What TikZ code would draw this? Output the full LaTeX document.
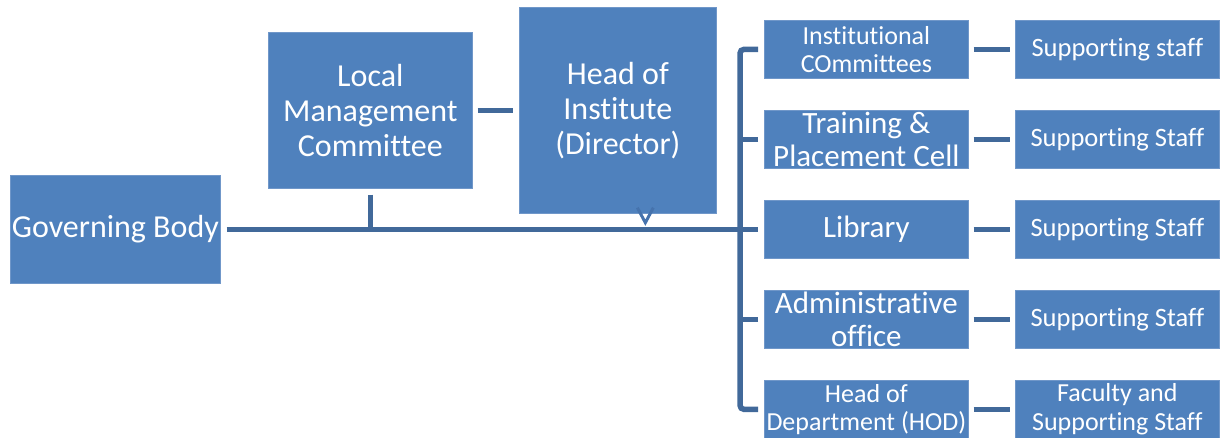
\documentclass[tikz,border=0pt]{standalone}
\usepackage{fontspec}
\setmainfont{Carlito}[Ligatures=NoCommon]
\definecolor{boxfill}{HTML}{4F81BD}
\definecolor{boxedge}{HTML}{7097C9}
\definecolor{linkblue}{HTML}{41699A}
\definecolor{chevblue}{HTML}{4673AD}
\begin{document}
\begin{tikzpicture}[x=1pt,y=-1pt,
  unit/.style={fill=boxfill,draw=boxedge,line width=0.7pt,text=white,
    align=center,inner sep=0pt,anchor=north west},
  bigtxt/.style={font=\fontsize{32}{35}\selectfont},
  midtxt/.style={font=\fontsize{31}{33.5}\selectfont},
  smalltxt/.style={font=\fontsize{26}{28.5}\selectfont},
  stafftxt/.style={font=\fontsize{26.5}{29}\selectfont},
  link/.style={draw=linkblue,line width=5.5pt},
  chev/.style={draw=chevblue,line width=3pt,line join=miter}]
\useasboundingbox (0,0) rectangle (1226,438);

% left-hand management boxes
\node[unit,bigtxt,minimum width=210pt,minimum height=108pt] (gb) at (10,175) {Governing Body};
\node[unit,bigtxt,minimum width=204pt,minimum height=156pt] (lmc) at (268,32) {Local\\Management\\Committee};
\node[unit,bigtxt,minimum width=197pt,minimum height=206pt] (hoi) at (519,7) {Head of\\Institute\\(Director)};

% units reporting to the director
\node[unit,smalltxt,minimum width=204pt,minimum height=58pt] (inst) at (764,20) {Institutional\\COmmittees};
\node[unit,midtxt,minimum width=204pt,minimum height=58pt] (tpc) at (764,110) {Training \&\\Placement Cell};
\node[unit,midtxt,minimum width=204pt,minimum height=58pt] (lib) at (764,200) {Library};
\node[unit,midtxt,minimum width=204pt,minimum height=58pt] (adm) at (764,290) {Administrative\\office};
\node[unit,smalltxt,minimum width=204pt,minimum height=58pt] (hod) at (764,380) {Head of\\Department (HOD)};

% staff boxes
\node[unit,stafftxt,minimum width=204pt,minimum height=58pt] (s1) at (1015,20) {Supporting staff};
\node[unit,stafftxt,minimum width=204pt,minimum height=58pt] (s2) at (1015,110) {Supporting Staff};
\node[unit,stafftxt,minimum width=204pt,minimum height=58pt] (s3) at (1015,200) {Supporting Staff};
\node[unit,stafftxt,minimum width=204pt,minimum height=58pt] (s4) at (1015,290) {Supporting Staff};
\node[unit,smalltxt,minimum width=204pt,minimum height=58pt] (s5) at (1015,380) {Faculty and\\Supporting Staff};

% main line and bracket
\coordinate (bus) at (740,229);
\draw[link,shorten <=6pt,shorten >=6pt] (gb.east) -- (lib.west);
\draw[link,shorten <=6pt] (lmc.south) -- (lmc.south |- bus);
\draw[link,shorten <=5pt,shorten >=6pt] (lmc.east) -- (hoi.west);
\draw[link,rounded corners=4pt] ([xshift=-6pt]inst.west) -| (bus) |- ([xshift=-6pt]hod.west);
\draw[link,shorten <=6pt] (tpc.west) -- (tpc.west -| bus);
\draw[link,shorten <=6pt] (adm.west) -- (adm.west -| bus);

% unit to staff links
\foreach \a/\b in {inst/s1,tpc/s2,lib/s3,adm/s4,hod/s5}
  \draw[link,shorten <=5pt,shorten >=5pt] (\a.east) -- (\b.west);

% chevron below the director box
\draw[chev] ([xshift=19.5pt,yshift=6pt]hoi.south) -- ([xshift=27.5pt,yshift=-9pt]hoi.south) -- ([xshift=35.5pt,yshift=6pt]hoi.south);
\end{tikzpicture}
\end{document}
